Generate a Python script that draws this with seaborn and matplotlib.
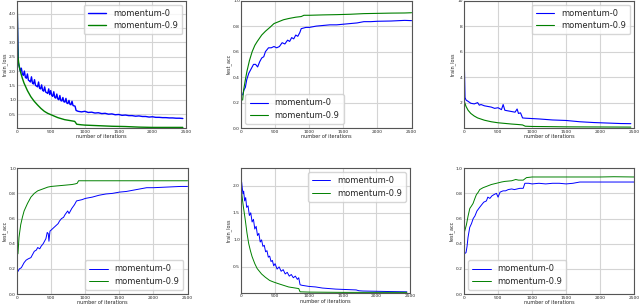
import numpy as np
import pandas as pd
import matplotlib
matplotlib.use("Agg")
import matplotlib.pyplot as plt
import seaborn as sns

# ---- panel 1: train_loss (top left)
p1_it_m0 = [0, 15, 30, 45, 60, 75, 90, 105, 120, 135, 150, 165, 180, 195, 210, 225, 240, 255, 270, 285,
            300, 315, 330, 345, 360, 375, 390, 405, 420, 435, 450, 465, 480, 495, 510, 525, 540, 555,
            570, 585, 600, 615, 630, 645, 660, 675, 690, 705, 720, 735, 750, 765, 780, 795, 810, 825,
            840, 855, 870, 900,
            950, 1000, 1050, 1100, 1150, 1200, 1250, 1300, 1350, 1400, 1450, 1500, 1550, 1600, 1650, 1700,
            1750, 1800, 1850, 1900, 1950, 2000, 2050, 2100, 2150, 2200, 2250, 2300, 2350, 2400, 2450]
p1_m0 = [4.1, 2.3, 2.15, 2.0, 2.1, 1.9, 1.85, 2.0, 1.78, 1.75, 1.9, 1.68, 1.66, 1.62, 1.8, 1.58, 1.55, 1.7, 1.5, 1.48,
         1.45, 1.62, 1.4, 1.38, 1.52, 1.33, 1.3, 1.45, 1.27, 1.25, 1.22, 1.38, 1.18, 1.32, 1.15, 1.12, 1.28, 1.08,
         1.06, 1.2, 1.03, 1.0, 1.15, 0.97, 0.96, 1.08, 0.93, 0.92, 1.05, 0.88, 0.87, 0.98, 0.84, 0.83, 0.95, 0.8,
         0.79, 0.78, 0.63, 0.6,
         0.58, 0.6, 0.56, 0.57, 0.54, 0.55, 0.52, 0.53, 0.5, 0.51, 0.48, 0.49, 0.46, 0.47, 0.45, 0.45,
         0.43, 0.44, 0.42, 0.42, 0.4, 0.41, 0.39, 0.39, 0.38, 0.38, 0.37, 0.37, 0.36, 0.36, 0.35]
p1_it_m9 = [0, 5, 10, 25, 50, 75, 100, 150, 200, 250, 300, 350, 400, 450, 500, 600, 700, 800, 850, 880,
            950, 1000, 1200, 1400, 1600, 1800, 2000, 2200, 2450]
p1_m9 = [4.35, 3.0, 2.5, 2.2, 1.95, 1.75, 1.58, 1.32, 1.11, 0.95, 0.82, 0.7, 0.6, 0.53, 0.48, 0.38, 0.31, 0.27, 0.25, 0.15,
         0.13, 0.12, 0.1, 0.08, 0.07, 0.05, 0.04, 0.04, 0.04]

# ---- panel 2: test_acc (top middle)
p2_it_m0 = [20, 40, 60, 80, 110, 140, 180, 210, 240, 270, 300, 330, 355, 400, 440, 480, 520, 560, 600, 640,
            680, 710, 740, 770, 800, 830, 860, 880, 950, 1000, 1100, 1200, 1300, 1400, 1500, 1600, 1700,
            1800, 1900, 2000, 2200, 2400, 2500]
p2_m0 = [0.26, 0.3, 0.32, 0.38, 0.43, 0.46, 0.5, 0.5, 0.48, 0.52, 0.55, 0.56, 0.6, 0.63, 0.63, 0.64, 0.63, 0.64, 0.67, 0.66,
         0.69, 0.68, 0.71, 0.7, 0.73, 0.72, 0.75, 0.78, 0.79, 0.79, 0.8, 0.805, 0.81, 0.81, 0.815, 0.82, 0.825,
         0.835, 0.835, 0.838, 0.84, 0.845, 0.843]
p2_it_m9 = [20, 35, 60, 85, 120, 160, 200, 235, 300, 355, 420, 480, 550, 620, 700, 800, 880, 920, 1000,
            1200, 1400, 1600, 1800, 2000, 2200, 2400, 2500]
p2_m9 = [0.22, 0.3, 0.38, 0.45, 0.53, 0.6, 0.65, 0.68, 0.73, 0.76, 0.79, 0.82, 0.835, 0.85, 0.86, 0.87, 0.875, 0.885, 0.885,
         0.888, 0.89, 0.893, 0.898, 0.9, 0.902, 0.903, 0.905]

# ---- panel 3: train_loss (top right)
p3_it_m0 = [0, 5, 15, 30, 60, 100, 150, 200, 225, 250, 300, 350, 400, 450, 500, 550, 575, 600, 650, 700,
            750, 780, 800, 830, 860, 900, 1000, 1100, 1200, 1300, 1400, 1500, 1600, 1700, 1800, 1900,
            2000, 2100, 2200, 2300, 2450]
p3_m0 = [10.2, 5.0, 2.4, 2.2, 2.1, 1.95, 1.9, 2.0, 1.8, 1.85, 1.75, 1.7, 1.65, 1.55, 1.6, 1.45, 1.85, 1.4, 1.35, 1.3,
         1.25, 1.5, 1.15, 1.2, 0.8, 0.78, 0.75, 0.72, 0.68, 0.64, 0.62, 0.6, 0.55, 0.5, 0.47, 0.44,
         0.42, 0.4, 0.38, 0.36, 0.35]
p3_it_m9 = [0, 10, 30, 60, 100, 150, 200, 300, 400, 500, 600, 700, 800, 860, 900, 1000, 1200, 1500, 2000, 2450]
p3_m9 = [2.3, 2.0, 1.7, 1.4, 1.15, 0.95, 0.8, 0.62, 0.5, 0.42, 0.37, 0.32, 0.28, 0.25, 0.15, 0.13, 0.12, 0.1, 0.09, 0.08]

# ---- panel 4: test_acc (bottom left)
p4_it_m0 = [10, 30, 60, 100, 130, 160, 200, 230, 250, 280, 300, 330, 350, 380, 400, 420, 440, 455, 465, 480,
            520, 560, 600, 620, 650, 680, 700, 740, 760, 800, 840, 870, 950, 1000, 1100, 1200, 1300,
            1400, 1500, 1600, 1700, 1800, 1900, 2000, 2200, 2400, 2500]
p4_m0 = [0.18, 0.2, 0.21, 0.25, 0.27, 0.28, 0.29, 0.32, 0.34, 0.35, 0.37, 0.36, 0.38, 0.4, 0.42, 0.44, 0.49, 0.48, 0.42, 0.5,
         0.52, 0.54, 0.56, 0.58, 0.6, 0.61, 0.63, 0.66, 0.64, 0.68, 0.71, 0.74, 0.75, 0.76, 0.77, 0.785, 0.795,
         0.8, 0.81, 0.815, 0.825, 0.835, 0.845, 0.845, 0.85, 0.855, 0.855]
p4_it_m9 = [10, 25, 50, 75, 100, 150, 200, 250, 300, 350, 400, 450, 500, 600, 700, 800, 850, 880, 900,
            1000, 1500, 2000, 2500]
p4_m9 = [0.32, 0.45, 0.55, 0.61, 0.66, 0.72, 0.77, 0.8, 0.82, 0.83, 0.84, 0.85, 0.855, 0.86, 0.865, 0.87, 0.875, 0.88, 0.9,
         0.9, 0.9, 0.9, 0.9]

# ---- panel 5: train_loss (bottom middle)
p5_it_m0 = [5, 15, 25, 35, 50, 65, 80, 100, 120, 140, 160, 180, 200, 220, 240, 260, 280, 300, 320, 340,
            360, 380, 400, 420, 440, 460, 480, 500, 530, 560, 590, 620, 650, 680, 710, 740, 770, 800,
            830, 850, 870, 900, 1000, 1100, 1200, 1300, 1400, 1500, 1600, 1700, 1740, 1800, 2000, 2200, 2450]
p5_m0 = [2.07, 1.95, 1.85, 1.9, 1.72, 1.78, 1.6, 1.63, 1.45, 1.5, 1.33, 1.38, 1.2, 1.25, 1.08, 1.12, 0.96, 1.0, 0.88, 0.9,
         0.78, 0.8, 0.68, 0.7, 0.6, 0.62, 0.52, 0.56, 0.46, 0.5, 0.42, 0.45, 0.37, 0.4, 0.33, 0.36, 0.3, 0.33,
         0.27, 0.3, 0.17, 0.16, 0.14, 0.13, 0.11, 0.1, 0.09, 0.085, 0.08, 0.075, 0.06, 0.055, 0.05, 0.045, 0.04]
p5_it_m9 = [0, 30, 60, 85, 110, 135, 160, 200, 235, 300, 355, 420, 480, 550, 600, 700, 850, 870, 1000,
            1500, 2000, 2450]
p5_m9 = [1.92, 1.62, 1.36, 1.12, 0.93, 0.8, 0.69, 0.56, 0.47, 0.37, 0.31, 0.25, 0.22, 0.19, 0.17, 0.13, 0.1, 0.04, 0.035,
         0.03, 0.03, 0.03]

# ---- panel 6: test_acc (bottom right)
p6_it_m0 = [5, 30, 45, 59, 84, 110, 135, 160, 190, 231, 260, 290, 329, 350, 380, 410, 440, 476, 500, 530,
            574, 610, 650, 700, 740, 780, 820, 869, 894, 950, 1000, 1100, 1200, 1300, 1400, 1500, 1600,
            1700, 2000, 2300, 2500]
p6_m0 = [0.32, 0.33, 0.38, 0.45, 0.53, 0.56, 0.6, 0.62, 0.66, 0.69, 0.71, 0.73, 0.74, 0.77, 0.76, 0.78, 0.79, 0.8, 0.77, 0.81,
         0.82, 0.82, 0.83, 0.835, 0.83, 0.835, 0.84, 0.84, 0.88, 0.88, 0.875, 0.88, 0.875, 0.88, 0.88, 0.875, 0.88,
         0.89, 0.89, 0.89, 0.89]
p6_it_m9 = [5, 20, 35, 60, 85, 110, 133, 160, 182, 210, 231, 280, 329, 400, 476, 550, 600, 700, 760, 800,
            869, 918, 1000, 1200, 1500, 1800, 2000, 2200, 2500]
p6_m9 = [0.49, 0.52, 0.55, 0.62, 0.68, 0.7, 0.72, 0.76, 0.79, 0.81, 0.83, 0.845, 0.855, 0.87, 0.88, 0.89, 0.895, 0.9, 0.91, 0.905,
         0.905, 0.925, 0.93, 0.93, 0.93, 0.93, 0.93, 0.932, 0.93]

panels = [
    # rect, x0, y0, x1, y1, ylabel, ylim, yticks, legend loc, linewidth
    ([0.027, 0.584, 0.264, 0.414], p1_it_m0, p1_m0, p1_it_m9, p1_m9, "train_loss", (0.015, 4.45),
     [0.5, 1.0, 1.5, 2.0, 2.5, 3.0, 3.5, 4.0], "upper right", 1.0),
    ([0.377, 0.584, 0.266, 0.414], p2_it_m0, p2_m0, p2_it_m9, p2_m9, "test_acc", (0.0, 1.0),
     [0.0, 0.2, 0.4, 0.6, 0.8, 1.0], "lower left", 0.8),
    ([0.725, 0.584, 0.266, 0.414], p3_it_m0, p3_m0, p3_it_m9, p3_m9, "train_loss", (0.0, 10.0),
     [2, 4, 6, 8, 10], "upper right", 0.8),
    ([0.027, 0.045, 0.266, 0.409], p4_it_m0, p4_m0, p4_it_m9, p4_m9, "test_acc", (0.0, 1.0),
     [0.0, 0.2, 0.4, 0.6, 0.8, 1.0], "lower right", 0.7),
    ([0.377, 0.049, 0.264, 0.406], p5_it_m0, p5_m0, p5_it_m9, p5_m9, "train_loss", (0.02, 2.33),
     [0.5, 1.0, 1.5, 2.0], "upper right", 0.7),
    ([0.725, 0.045, 0.266, 0.409], p6_it_m0, p6_m0, p6_it_m9, p6_m9, "test_acc", (0.0, 1.0),
     [0.0, 0.2, 0.4, 0.6, 0.8, 1.0], "lower left", 0.7),
]

sns.set_style("whitegrid", {"grid.color": "#d4d4d4", "axes.edgecolor": "#555555"})
plt.rcParams['font.family'] = ['DejaVu Sans']

fig = plt.figure(figsize=(6.4, 3.08), dpi=100)

for rect, x0, y0, x1, y1, ylab, ylim, yticks, loc, lw in panels:
    ax = fig.add_axes(rect)
    df0 = pd.DataFrame({"iter": x0, "val": y0})
    df9 = pd.DataFrame({"iter": x1, "val": y1})
    sns.lineplot(data=df0, x="iter", y="val", ax=ax, color="blue", lw=lw, label="momentum-0",
                 estimator=None, sort=False)
    sns.lineplot(data=df9, x="iter", y="val", ax=ax, color="green", lw=lw, label="momentum-0.9",
                 estimator=None, sort=False)
    ax.set_xlim(0, 2500)
    ax.set_ylim(*ylim)
    ax.set_xticks([0, 500, 1000, 1500, 2000, 2500])
    ax.set_yticks(yticks)
    ax.set_xlabel("number of iterations", fontsize=3.5, labelpad=0.5)
    ax.set_ylabel(ylab, fontsize=3.5, labelpad=1)
    ax.tick_params(labelsize=3.2, pad=1, length=0)
    ax.grid(True, lw=0.8)
    for s in ax.spines.values():
        s.set_linewidth(0.8)
    ax.legend(loc=loc, fontsize=6, frameon=True, handlelength=2.2, borderpad=0.5, labelspacing=0.4)

fig.savefig("out.png", dpi=100)
